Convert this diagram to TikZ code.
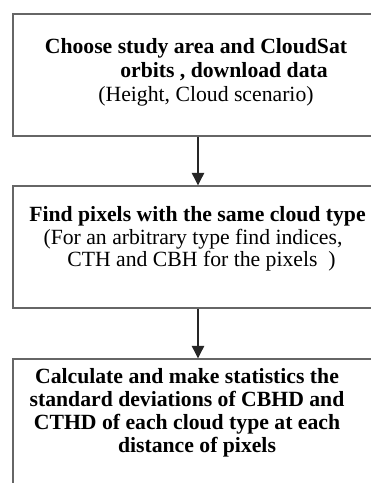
\documentclass[tikz,border=0pt]{standalone}
\usepackage{fontspec}
\setmainfont{Liberation Serif}
\usetikzlibrary{arrows.meta}
\begin{document}
\begin{tikzpicture}[x=1pt,y=-1pt,
  box/.style={draw=black!60, line width=1.4pt, minimum width=370pt, inner sep=0pt},
  txt/.style={anchor=base, inner sep=0pt, font=\fontsize{21.7}{24}\selectfont},
  btxt/.style={txt, font=\fontsize{21.7}{24}\selectfont\bfseries},
  flow/.style={draw=black!85, line width=1.1pt, -{Triangle[length=12.5pt,width=12.5pt]}}]
\clip (0,0) rectangle (371,483);
\fill[white] (0,0) rectangle (371,483);
% boxes
\node[box, minimum height=122pt] (b1) at (198,75) {};
\node[box, minimum height=122pt] (b2) at (198,247) {};
\node[box, minimum height=160pt] (b3) at (198,439) {};
% box 1 text
\node[btxt] (t11) at (196,53) {Choose study area and CloudSat};
\node[btxt] (t12) at (224,77) {orbits , download data};
\node[txt]  (t13) at (206,101) {(Height, Cloud scenario)};
% box 2 text
\node[btxt] (t21) at (197.5,221) {Find pixels with the same cloud type};
\node[txt]  (t22) at (193,244) {(For an arbitrary type find indices,};
\node[txt]  (t23) at (201.5,266) {CTH and CBH for the pixels\ \ )};
% box 3 text
\node[btxt] (t31) at (187,383) {Calculate and make statistics the};
\node[btxt] (t32) at (187,406) {standard deviations of CBHD and};
\node[btxt] (t33) at (187,429) {CTHD of each cloud type at each};
\node[btxt] (t34) at (197,452) {distance of pixels};
% connectors
\draw[flow] (b1.south) -- (b2.north);
\draw[flow] (b2.south) -- (b3.north);
\end{tikzpicture}
\end{document}
